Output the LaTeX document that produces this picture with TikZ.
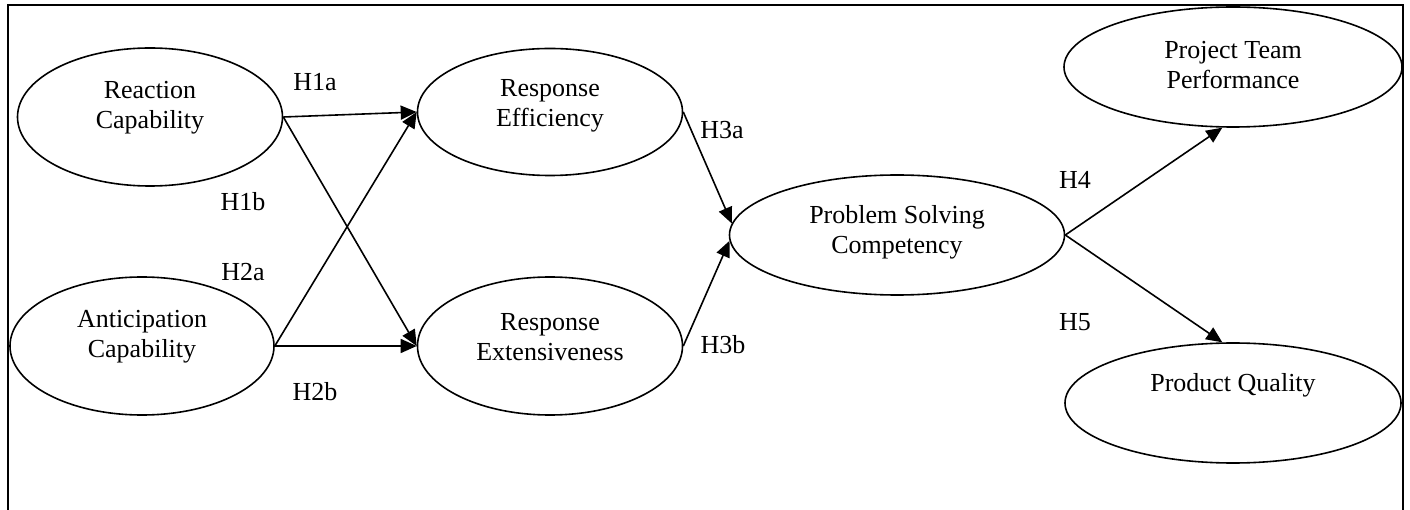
\documentclass[tikz,border=0pt]{standalone}
\usepackage{fontspec}
\setmainfont{Liberation Serif}
\usetikzlibrary{positioning}
\usetikzlibrary{shapes.geometric}
\usetikzlibrary{arrows.meta}

\begin{document}
\begin{tikzpicture}[x=1pt, y=-1pt, line width=1.6pt,
        >={Triangle[length=16pt, width=14pt]},
        every node/.style={font=\fontsize{26}{30}\selectfont},
        construct/.style={draw=black, ellipse, inner sep=0pt, line width=1.6pt},
        hyp/.style={inner sep=0pt}]
        \useasboundingbox (0, 0) rectangle (1410, 510);
        \draw (8, 510) -- (8, 5) -- (1403, 5) -- (1403, 510);
        % constructs
        \node(rc) [construct, minimum width=265, minimum height=138] at (150, 117) {};
        \node(ac) [construct, minimum width=264, minimum height=138] at (142, 346) {};
        \node(re) [construct, minimum width=265, minimum height=127] at (550, 112) {};
        \node(rx) [construct, minimum width=265, minimum height=138] at (550, 346) {};
        \node(psc) [construct, minimum width=335, minimum height=120] at (897, 235) {};
        \node(ptp) [construct, minimum width=338, minimum height=120] at (1233, 67) {};
        \node(pq) [construct, minimum width=336, minimum height=120] at (1233, 403) {};
        \node(rc-t) [align=center] at (150, 108) {Reaction\\Capability};
        \node(ac-t) [align=center] at (142, 337) {Anticipation\\Capability};
        \node(re-t) [align=center] at (550, 106) {Response\\Efficiency};
        \node(rx-t) [align=center] at (550, 337) {Response\\Extensiveness};
        \node(psc-t) [align=center] at (897, 232) {Problem Solving\\Competency};
        \node(ptp-t) [align=center] at (1233, 65) {Project Team\\Performance};
        \node(pq-t) at (1233, 385) {Product Quality};
        % paths
        \draw[->] (rc.east) -- (re.west);
        \draw[->] (rc.east) -- (rx.west);
        \draw[->] (ac.east) -- (re.west);
        \draw[->] (ac.east) -- (rx.west);
        \draw[->] (re.east) -- (psc.176);
        \draw[->] (rx.east) -- (psc.182);
        \draw[->] (psc.east) -- (ptp.-100);
        \draw[->] (psc.east) -- (pq.100);
        % hypotheses
        \node(h1a) [hyp] at (315, 82) {H1a};
        \node(h1b) [hyp] at (243, 202) {H1b};
        \node(h2a) [hyp] at (243, 272) {H2a};
        \node(h2b) [hyp] at (315, 392) {H2b};
        \node(h3a) [hyp] at (722, 130) {H3a};
        \node(h3b) [hyp] at (723, 345) {H3b};
        \node(h4) [hyp] at (1075, 180) {H4};
        \node(h5) [hyp] at (1075, 322) {H5};
    \end{tikzpicture}
\end{document}
